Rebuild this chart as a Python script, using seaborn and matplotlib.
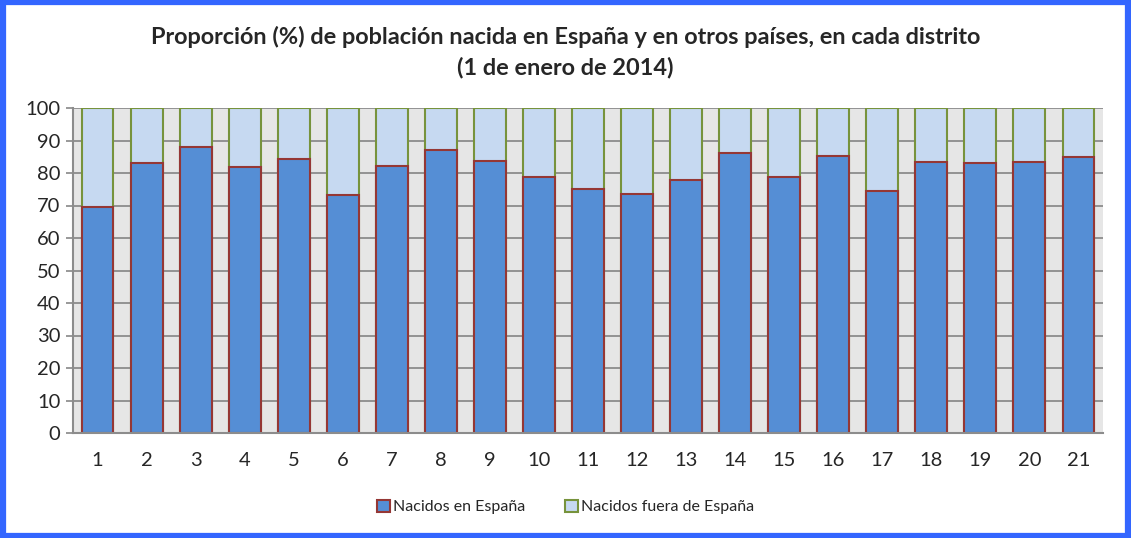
import matplotlib
matplotlib.use("Agg")
import matplotlib.pyplot as plt
import seaborn as sns
import pandas as pd
from matplotlib.patches import Rectangle, Patch

distritos = [str(i) for i in range(1, 22)]
nacidos_espana = [69.6, 83.0, 88.0, 81.7, 84.4, 73.2, 82.3, 87.1, 83.8, 78.9,
                  75.0, 73.5, 77.8, 86.2, 78.7, 85.1, 74.6, 83.5, 83.0, 83.5, 84.8]
nacidos_fuera = [round(100 - v, 1) for v in nacidos_espana]

df = pd.DataFrame({"distrito": distritos, "espana": nacidos_espana, "fuera": nacidos_fuera})
df["total"] = df["espana"] + df["fuera"]

sns.set_theme(style="white")
plt.rcParams["font.family"] = ["Lato", "DejaVu Sans"]

fig = plt.figure(figsize=(11.31, 5.38), dpi=100)
ax = fig.add_axes([73/1131, 1-433/538, (1103-73)/1131, (433-108)/538])

ax.set_facecolor("#E6E6E6")
ax.set_axisbelow(True)
ax.yaxis.grid(True, color="#8C8C8C", linewidth=1.3)
ax.xaxis.grid(False)

sns.barplot(data=df, x="distrito", y="total", color="#C6D9F1", saturation=1,
            width=0.65, edgecolor="#77933C", linewidth=1.5, ax=ax)
sns.barplot(data=df, x="distrito", y="espana", color="#558ED5", saturation=1,
            width=0.65, edgecolor="#953735", linewidth=1.5, ax=ax)

ax.set_ylim(0, 100)
ax.set_xlim(-0.5, len(distritos) - 0.5)
ax.set_yticks(range(0, 101, 10))
ax.set_xlabel("")
ax.set_ylabel("")
ax.tick_params(axis="y", labelsize=14.5, length=5, color="#8C8C8C", direction="out", pad=4, left=True)
ax.tick_params(axis="x", labelsize=14.5, length=0, pad=14)
for s in ["top", "right"]:
    ax.spines[s].set_visible(False)
for s in ["left", "bottom"]:
    ax.spines[s].set_color("#8C8C8C")
    ax.spines[s].set_linewidth(1.5)

fig.text(0.5, 1-37/538, "Proporción (%) de población nacida en España y en otros países, en cada distrito",
         ha="center", va="center", fontsize=16.9, fontweight="bold")
fig.text(0.5, 1-68/538, "(1 de enero de 2014)", ha="center", va="center", fontsize=16.9, fontweight="bold")

handles = [Patch(facecolor="#558ED5", edgecolor="#953735", linewidth=1.5, label="Nacidos en España"),
           Patch(facecolor="#C6D9F1", edgecolor="#77933C", linewidth=1.5, label="Nacidos fuera de España")]
fig.legend(handles=handles, loc="center", bbox_to_anchor=(0.5, 1-507/538), ncol=2, frameon=False,
           fontsize=11.5, handlelength=0.8, handleheight=0.8, handletextpad=0.2, columnspacing=2.5)

fig.add_artist(Rectangle((0.0025, 0.004), 0.995, 0.992, transform=fig.transFigure, fill=False,
                         edgecolor="#3366FF", linewidth=4.5))

fig.savefig("out.png", dpi=100)
